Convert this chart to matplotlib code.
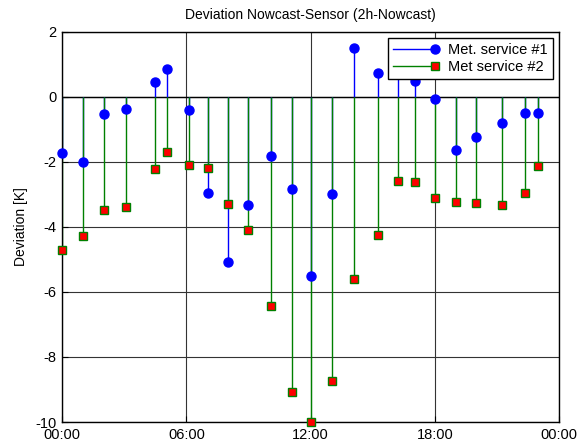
import matplotlib
matplotlib.use("Agg")
import matplotlib.pyplot as plt
from matplotlib.lines import Line2D
from matplotlib.legend_handler import HandlerLine2D

plt.rcParams['font.family'] = ['Liberation Sans', 'DejaVu Sans']
plt.rcParams['axes.unicode_minus'] = False

# time of day in hours
hours = [0.0, 1.0, 2.0, 3.1, 4.5, 5.05, 6.15, 7.05, 8.0, 9.0, 10.1, 11.1,
         12.0, 13.05, 14.1, 15.25, 16.2, 17.05, 18.0, 19.0, 20.0, 21.25, 22.35, 23.0]
# deviation nowcast - sensor [K]
service1 = [-1.74, -2.0, -0.53, -0.38, 0.46, 0.87, -0.39, -2.96, -5.07, -3.34, -1.82, -2.83,
            -5.51, -3.0, 1.5, 0.72, 1.1, 0.48, -0.07, -1.62, -1.24, -0.79, -0.49, -0.5]
service2 = [-4.71, -4.28, -3.47, -3.40, -2.23, -1.71, -2.10, -2.19, -3.31, -4.11, -6.44, -9.07,
            -9.99, -8.75, -5.61, -4.25, -2.58, -2.63, -3.11, -3.23, -3.25, -3.34, -2.97, -2.13]
labels = ["Met. service #1", "Met service #2"]
xticks = [0, 6, 12, 18, 24]
xticklabels = ["00:00", "06:00", "12:00", "18:00", "00:00"]


class EndMarkerHandler(HandlerLine2D):
    # legend entry with the marker at the right end of the line
    def create_artists(self, *args, **kwargs):
        artists = super().create_artists(*args, **kwargs)
        artists[0].set_markevery([2])
        return artists


fig = plt.figure(figsize=(5.86, 4.48), dpi=100)
ax = fig.add_axes([0.106, 0.058, 0.848, 0.871])

ax.grid(True, color='0.2', linewidth=0.8)
ax.set_axisbelow(True)
ax.axhline(0, color='black', linewidth=1.0, zorder=1.5)

ax.vlines(hours, 0, service1, colors='#0000ff', linewidth=1.0, zorder=2)
ax.vlines(hours, 0, service2, colors='#008000', linewidth=1.0, zorder=2.1)
ax.plot(hours, service1, 'o', color='#0000ff', markersize=6.5, clip_on=False, zorder=3)
ax.plot(hours, service2, 's', markerfacecolor='red', markeredgecolor='#008000',
        markeredgewidth=1.0, markersize=5.5, clip_on=False, zorder=3.1)

handles = [
    Line2D([], [], color='#0000ff', linewidth=1.0, marker='o', markersize=6.5),
    Line2D([], [], color='#008000', linewidth=1.0, marker='s', markersize=5.5,
           markerfacecolor='red', markeredgecolor='#008000'),
]
leg = ax.legend(handles, labels, loc='upper right', fontsize=10.5, fancybox=False,
                framealpha=1, edgecolor='black', borderaxespad=0.4, handlelength=2.9,
                handletextpad=0.9, labelspacing=0.25, borderpad=0.35,
                handler_map={Line2D: EndMarkerHandler()})
leg.get_frame().set_linewidth(1.0)

ax.set_xlim(0, 24)
ax.set_ylim(-10, 2)
ax.set_xticks(xticks)
ax.set_xticklabels(xticklabels)
ax.set_yticks(range(-10, 3, 2))
ax.tick_params(direction='in', labelsize=10.5, length=4, colors='black')
ax.tick_params(axis='x', pad=4.5)
ax.tick_params(axis='y', pad=4)
for s in ax.spines.values():
    s.set_linewidth(1.0)

ax.set_title("Deviation Nowcast-Sensor (2h-Nowcast)", fontsize=10, pad=9)
ax.set_ylabel("Deviation [K]", fontsize=10, labelpad=5)

fig.savefig("out.png", dpi=100)
